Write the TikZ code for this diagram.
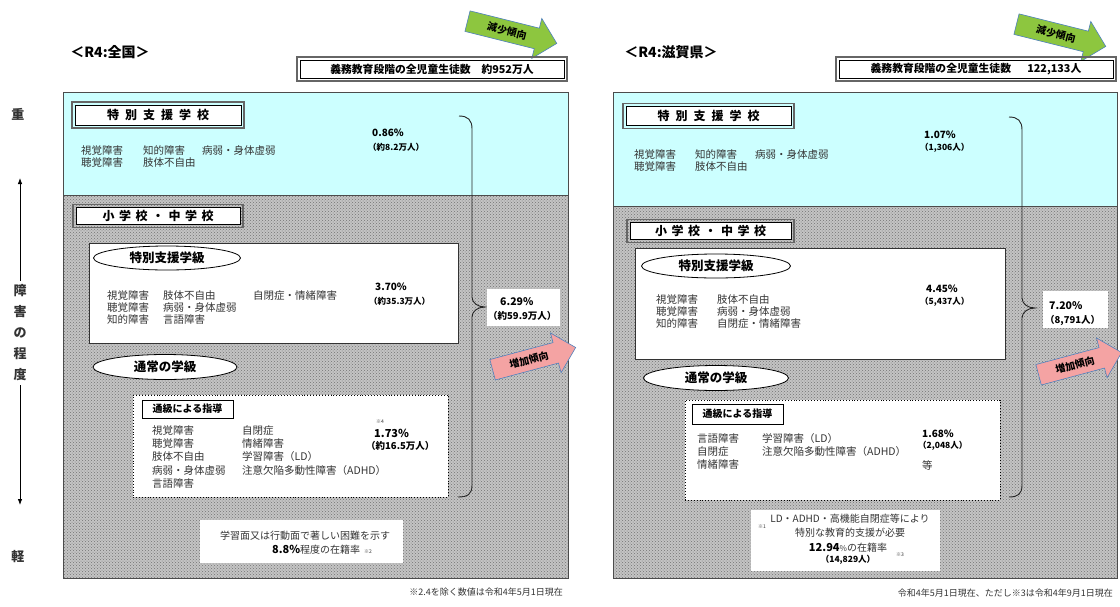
\documentclass[tikz,border=0pt]{standalone}
\usepackage{fontspec}
\setmainfont{Noto Sans CJK JP}
\usetikzlibrary{shapes.geometric,shapes.arrows,patterns,arrows.meta}
\definecolor{spcyan}{HTML}{CCFFFF}
\definecolor{arrgreen}{HTML}{8DC63F}
\definecolor{arrpink}{HTML}{F4A3A3}
\definecolor{arrblue}{HTML}{4F81BD}
\definecolor{txtgray}{HTML}{333333}
\definecolor{hatchbg}{HTML}{C4C4C4}
\begin{document}
\begin{tikzpicture}[x=1pt,y=-1pt,
  body/.style={font=\fontsize{10.5}{12.3}\selectfont,text=txtgray,anchor=north west,inner sep=0pt,align=left},
  bodyw/.style={body,font=\fontsize{10.5}{13.4}\selectfont},
  pct/.style={font=\bfseries\fontsize{10}{12}\selectfont,anchor=west,inner sep=0pt},
  cnt/.style={font=\bfseries\fontsize{8.5}{10}\selectfont,anchor=west,inner sep=0pt},
  tinytxt/.style={font=\fontsize{5}{6}\selectfont,text=txtgray,inner sep=0pt},
  titletxt/.style={font=\bfseries\fontsize{14}{16}\selectfont,inner sep=0pt},
  dblbox/.style={draw=black,line width=0.9pt,fill=white,inner sep=0pt},
  outerframe/.style={draw=black!60,line width=1.4pt},
  headtxt/.style={font=\bfseries\fontsize{12}{14}\selectfont},
  pill/.style={ellipse,draw=black,line width=0.8pt,fill=white,inner sep=0pt,font=\bfseries\fontsize{12.5}{14}\selectfont},
  whitebox/.style={draw=black!80,line width=0.8pt,fill=white,inner sep=0pt},
  dotbox/.style={draw=black,dotted,line width=0.9pt,fill=white,inner sep=0pt},
  labelbox/.style={draw=black,line width=1pt,fill=white,inner sep=0pt,font=\bfseries\fontsize{10}{12}\selectfont},
  trend/.style={single arrow,draw=arrblue,line width=0.6pt,inner xsep=3pt,inner ysep=5.5pt,single arrow head extend=10pt,single arrow head indent=0pt,minimum height=92pt,font=\bfseries\fontsize{10}{11}\selectfont},
  panel/.style={draw=black!70,line width=0.9pt},
  foot/.style={font=\fontsize{9}{10}\selectfont,text=txtgray,anchor=east,inner sep=0pt},
  axistxt/.style={font=\bfseries\fontsize{13}{14}\selectfont,text=txtgray,inner sep=0pt},
  bracepath/.style={draw=black!85,line width=0.9pt},
  axarrow/.style={draw=black,line width=0.8pt,-{Latex[length=6pt,width=4.5pt]}},
  sumbox/.style={fill=white,inner sep=0pt},
  notetxt/.style={font=\fontsize{10}{12}\selectfont,text=txtgray,inner sep=0pt},
  totaltxt/.style={font=\bfseries\fontsize{10.8}{12}\selectfont}
]
\useasboundingbox (0,0) rectangle (1120,606);
\fill[white] (0,0) rectangle (1120,606);

% ---------- axis ----------
\node[axistxt] (ax-h) at (18,114) {重};
\node[axistxt] (ax-l) at (18,557) {軽};
\node[axistxt,align=center,font=\bfseries\fontsize{13}{21}\selectfont] (ax-m) at (20,333) {障\\害\\の\\程\\度};
\coordinate (ax-up) at (20,178);
\coordinate (ax-dn) at (20,505);
\draw[axarrow,shorten <=4pt] (ax-m.north) -- (ax-up);
\draw[axarrow,shorten <=4pt] (ax-m.south) -- (ax-dn);

% ---------- left panel ----------
\fill[spcyan] (63,92) rectangle (568,195);
\fill[hatchbg] (63,195) rectangle (568,578);
\fill[pattern=crosshatch dots,pattern color=black!55] (63,195) rectangle (568,578);
\draw[panel] (63,92) rectangle (568,195);
\draw[panel] (63,195) rectangle (568,578);

\node[titletxt] (l-title) at (110,52) {＜R4:全国＞};
\node[trend,fill=arrgreen,rotate=-14] (l-down) at (507,31) {減少傾向};
\node[dblbox,minimum width=264,minimum height=18,totaltxt] (l-total) at (432,69) {義務教育段階の全児童生徒数\hspace{1em}約952万人};
\draw[outerframe] ([shift={(-2.6pt,2.6pt)}]l-total.north west) rectangle ([shift={(2.6pt,-2.6pt)}]l-total.south east);

\node[dblbox,minimum width=166,minimum height=20,headtxt] (l-sch) at (158,115) {特\kern6pt 別\kern6pt 支\kern6pt 援\kern6pt 学\kern6pt 校};
\draw[outerframe] ([shift={(-2.6pt,2.6pt)}]l-sch.north west) rectangle ([shift={(2.6pt,-2.6pt)}]l-sch.south east);
\node[body] (l-sch1) at (81,145) {視覚障害\\聴覚障害};
\node[body] (l-sch2) at (143,145) {知的障害\\肢体不自由};
\node[body] (l-sch3) at (202,145) {病弱・身体虚弱};
\node[pct] (l-sch-p) at (372,133) {0.86\%};
\node[cnt] (l-sch-n) at (368,147) {（約8.2万人）};

\node[dblbox,minimum width=164,minimum height=17,headtxt] (l-ele) at (158,216) {小\kern4.5pt 学\kern4.5pt 校\kern4.5pt ・\kern4.5pt 中\kern4.5pt 学\kern4.5pt 校};
\draw[outerframe] ([shift={(-2.6pt,2.6pt)}]l-ele.north west) rectangle ([shift={(2.6pt,-2.6pt)}]l-ele.south east);

\node[whitebox,minimum width=369,minimum height=100] (l-cls) at (273.5,293) {};
\node[pill,minimum width=147,minimum height=24] (l-cls-h) at (167,258) {特別支援学級};
\node[body] (l-cls1) at (107,290) {視覚障害\\聴覚障害\\知的障害};
\node[body] (l-cls2) at (163,290) {肢体不自由\\病弱・身体虚弱\\言語障害};
\node[body] (l-cls3) at (253,290) {自閉症・情緒障害};
\node[pct] (l-cls-p) at (375,287) {3.70\%};
\node[cnt] (l-cls-n) at (369,301) {（約35.3万人）};

\node[pill,minimum width=144,minimum height=25] (l-reg) at (165,367) {通常の学級};

\node[dotbox,minimum width=315,minimum height=102] (l-tsu) at (290.5,446) {};
\node[labelbox,minimum width=91,minimum height=18] (l-tsu-h) at (187.5,409) {通級による指導};
\node[bodyw] (l-tsu1) at (152,425) {視覚障害\\聴覚障害\\肢体不自由\\病弱・身体虚弱\\言語障害};
\node[bodyw] (l-tsu2) at (242,425) {自閉症\\情緒障害\\学習障害（LD）\\注意欠陥多動性障害（ADHD）};
\node[tinytxt,anchor=west] (l-tsu-m) at (376,422) {※4};
\node[pct,font=\bfseries\fontsize{11}{12}\selectfont] (l-tsu-p) at (374,433) {1.73\%};
\node[cnt,font=\bfseries\fontsize{9.5}{11}\selectfont] (l-tsu-n) at (366,446) {（約16.5万人）};

\draw[bracepath] (459,116) .. controls (468,116) and (472,120) .. (472,129) -- (472,297) .. controls (472,303) and (478,307) .. (485,307) .. controls (478,307) and (472,311) .. (472,317) -- (472,485) .. controls (472,494) and (468,497) .. (458,497);

\node[sumbox,minimum width=73,minimum height=37] (l-sum) at (523.5,307.5) {};
\node[pct,font=\bfseries\fontsize{10.5}{12}\selectfont] (l-sum-p) at (500,302) {6.29\%};
\node[cnt,font=\bfseries\fontsize{9.5}{11}\selectfont] (l-sum-n) at (488,316) {（約59.9万人）};
\node[trend,fill=arrpink,rotate=15,minimum height=86] (l-up) at (529,360) {増加傾向};

\node[sumbox,minimum width=203,minimum height=43] (l-note) at (301.5,541.5) {};
\node[notetxt] (l-note1) at (305,536) {学習面又は行動面で著しい困難を示す};
\node[notetxt] (l-note2) at (322,550) {\textbf{\color{black}\fontsize{11}{12}\selectfont 8.8\%}程度の在籍率\hspace{4pt}{\fontsize{5}{6}\selectfont ※2}};
\node[foot] (l-foot) at (563,592) {※2.4を除く数値は令和4年5月1日現在};

% ---------- right panel ----------
\fill[spcyan] (613,92) rectangle (1117,206);
\fill[hatchbg] (613,206) rectangle (1117,578);
\fill[pattern=crosshatch dots,pattern color=black!55] (613,206) rectangle (1117,578);
\draw[panel] (613,92) rectangle (1117,206);
\draw[panel] (613,206) rectangle (1117,578);

\node[titletxt] (r-title) at (671,52) {＜R4:滋賀県＞};
\node[trend,fill=arrgreen,rotate=-14] (r-down) at (1056,34) {減少傾向};
\node[dblbox,minimum width=274,minimum height=18,totaltxt] (r-total) at (976,69) {義務教育段階の全児童生徒数\hspace{1.5em}122,133人};
\draw[outerframe] ([shift={(-2.6pt,2.6pt)}]r-total.north west) rectangle ([shift={(2.6pt,-2.6pt)}]r-total.south east);

\node[dblbox,minimum width=165,minimum height=19,headtxt] (r-sch) at (708.5,116) {特\kern6pt 別\kern6pt 支\kern6pt 援\kern6pt 学\kern6pt 校};
\draw[outerframe] ([shift={(-2.6pt,2.6pt)}]r-sch.north west) rectangle ([shift={(2.6pt,-2.6pt)}]r-sch.south east);
\node[body] (r-sch1) at (634,149) {視覚障害\\聴覚障害};
\node[body] (r-sch2) at (695,149) {知的障害\\肢体不自由};
\node[body] (r-sch3) at (755,149) {病弱・身体虚弱};
\node[pct] (r-sch-p) at (924,135) {1.07\%};
\node[cnt] (r-sch-n) at (920,148) {（1,306人）};

\node[dblbox,minimum width=161,minimum height=17,headtxt] (r-ele) at (710.5,231) {小\kern4.5pt 学\kern4.5pt 校\kern4.5pt ・\kern4.5pt 中\kern4.5pt 学\kern4.5pt 校};
\draw[outerframe] ([shift={(-2.6pt,2.6pt)}]r-ele.north west) rectangle ([shift={(2.6pt,-2.6pt)}]r-ele.south east);

\node[whitebox,minimum width=370,minimum height=111] (r-cls) at (820,303.5) {};
\node[pill,minimum width=149,minimum height=24] (r-cls-h) at (716,266) {特別支援学級};
\node[body] (r-cls1) at (656,294) {視覚障害\\聴覚障害\\知的障害};
\node[body] (r-cls2) at (717,294) {肢体不自由\\病弱・身体虚弱\\自閉症・情緒障害};
\node[pct] (r-cls-p) at (926,289) {4.45\%};
\node[cnt] (r-cls-n) at (920,302) {（5,437人）};

\node[pill,minimum width=145,minimum height=25] (r-reg) at (716,378) {通常の学級};

\node[dotbox,minimum width=315,minimum height=100] (r-tsu) at (842.5,450) {};
\node[labelbox,minimum width=91,minimum height=20] (r-tsu-h) at (737.5,414) {通級による指導};
\node[bodyw] (r-tsu1) at (697,433) {言語障害\\自閉症\\情緒障害};
\node[bodyw] (r-tsu2) at (762,433) {学習障害（LD）\\注意欠陥多動性障害（ADHD）};
\node[pct] (r-tsu-p) at (922,434) {1.68\%};
\node[cnt] (r-tsu-n) at (918,446) {（2,048人）};
\node[body,anchor=west] (r-tsu-etc) at (922,465) {等};

\begin{scope}[xshift=550pt]
\draw[bracepath] (459,117) .. controls (468,117) and (472,121) .. (472,130) -- (472,298) .. controls (472,304) and (478,308) .. (485,308) .. controls (478,308) and (472,312) .. (472,318) -- (472,485) .. controls (472,494) and (468,497) .. (459,497);
\end{scope}

\node[sumbox,minimum width=65,minimum height=37] (r-sum) at (1075.5,309.5) {};
\node[pct,font=\bfseries\fontsize{10.5}{12}\selectfont] (r-sum-p) at (1049,306) {7.20\%};
\node[cnt,font=\bfseries\fontsize{9.5}{11}\selectfont] (r-sum-n) at (1045,320) {（8,791人）};
\node[trend,fill=arrpink,rotate=15,minimum height=86] (r-up) at (1075,365) {増加傾向};

\node[sumbox,minimum width=189,minimum height=61] (r-note) at (845.5,540.5) {};
\node[notetxt] (r-note1) at (850,519) {LD・ADHD・高機能自閉症等により};
\node[notetxt] (r-note2) at (850,533) {特別な教育的支援が必要};
\node[notetxt] (r-note3) at (848,548) {\textbf{\color{black}\fontsize{11}{12}\selectfont 12.94}{\fontsize{8}{9}\selectfont\%}の在籍率};
\node[cnt,anchor=center] (r-note4) at (848,560) {（14,829人）};
\node[tinytxt] (r-m1) at (762,527) {※1};
\node[tinytxt] (r-m3) at (900,555) {※3};
\node[foot] (r-foot) at (1113,593) {令和4年5月1日現在、ただし※3は令和4年9月1日現在};
\end{tikzpicture}
\end{document}
